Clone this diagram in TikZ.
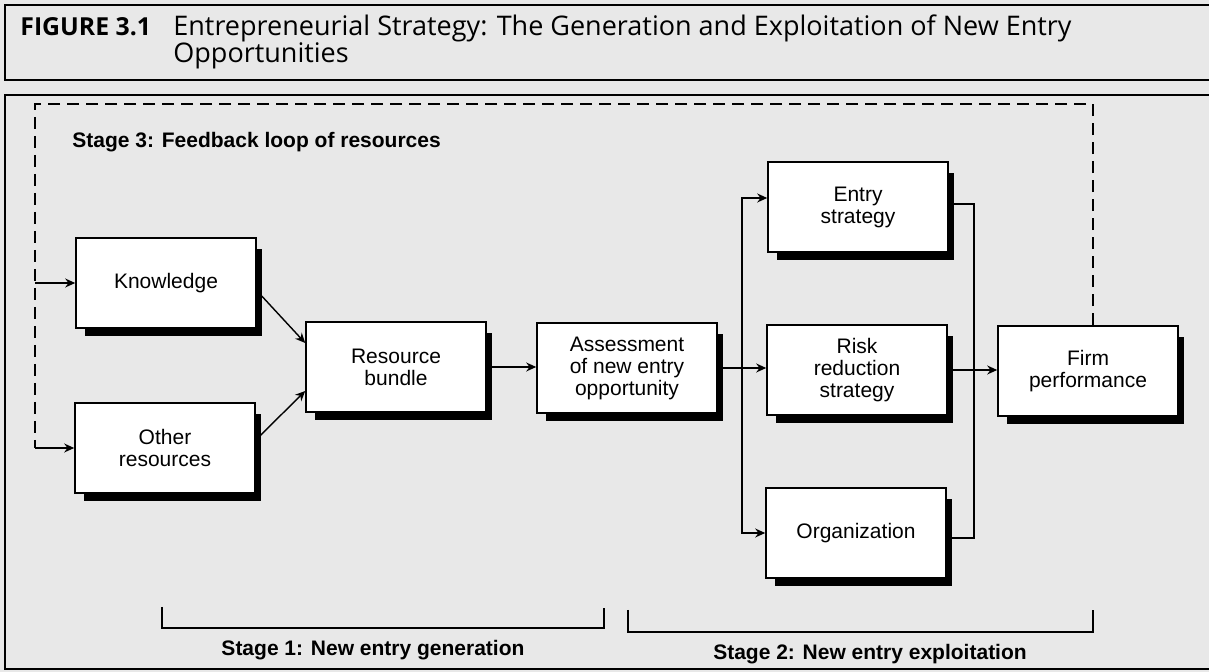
\documentclass[tikz,border=0pt]{standalone}
\usepackage{fontspec}
\setmainfont{Liberation Sans}
\newfontfamily\tieude{Open Sans}
\newcommand\chutieude{\tieude\fontsize{13.5}{13.5}\selectfont\setlength{\lineskiplimit}{-8pt}\relax}
\usetikzlibrary{arrows.meta}

\begin{document}
\begin{tikzpicture}[x=0.5pt,y=-0.5pt,
        hop/.style={draw,line width=0.8pt,fill=white,minimum width=90pt,minimum height=45pt,
            align=center,inner sep=2pt,font=\fontsize{10.5}{11}\selectfont},
        mui/.style={line width=0.7pt,-{Stealth[length=5pt,width=4.5pt]}},
        giaidoan/.style={inner sep=0pt,font=\fontsize{10.5}{12}\selectfont\bfseries}]
        %Nền
            \fill[black!9] (0,0) rectangle (1209,672);
            \useasboundingbox (0,0) rectangle (1209,672);
        %Khung
            \draw[line width=1pt] (1209,5)--(5,5)--(5,80)--(1209,80);
            \draw[line width=1pt] (1209,95)--(5,95)--(5,669)--(1209,669);
        %Tiêu đề
        \node[anchor=base west,inner sep=0pt,font=\tieude\fontsize{12.4}{12.5}\selectfont\bfseries] (hinh) at (20,36) {FIGURE 3.1};
        \node[anchor=base west,align=left,inner sep=0pt,font=\chutieude] (tieude) at (173,63)
            {Entrepreneurial Strategy: The Generation and Exploitation of New Entry\\Opportunities};
        %Các hộp
        \node[hop] (know) at (166,283) {Knowledge};
        \node[hop] (other) at (165,448) {Other\\resources};
        \node[hop] (bundle) at (396,367) {Resource\\bundle};
        \node[hop] (assess) at (627,368) {Assessment\\of new entry\\opportunity};
        \node[hop] (entry) at (858,207) {Entry\\strategy};
        \node[hop] (risk) at (857,370) {Risk\\reduction\\strategy};
        \node[hop] (org) at (856,533) {Organization};
        \node[hop] (firm) at (1088,371) {Firm\\performance};
        %Bóng
        \foreach \n in {know,other,bundle,assess,entry,risk,org,firm}{
            \fill ([xshift=5pt]\n.south west) rectangle ([xshift=2.5pt,yshift=-3.5pt]\n.south east);
            \fill ([yshift=-6pt]\n.north east) rectangle ([xshift=2.5pt]\n.south east);
        }
        %Vòng phản hồi
        \coordinate (trai) at (35,104);
        \draw[line width=0.7pt,dash pattern=on 6pt off 3.5pt] ([xshift=2.5pt]firm.north) |- (trai)--(trai |- other.west);
        \draw[mui] (trai |- know.west)--(know.west);
        \draw[mui] (trai |- other.west)--(other.west);
        %Mũi tên
        \draw[mui] ([xshift=2pt,yshift=-6pt]know.east)--([yshift=12pt]bundle.west);
        \draw[mui] ([xshift=2pt,yshift=6pt]other.east)--([yshift=-12pt]bundle.west);
        \draw[mui] ([xshift=2.5pt]bundle.east)--(bundle.east -| assess.west);
        \draw[mui] ([xshift=2.5pt]assess.east)--(assess.east -| risk.west);
        \coordinate (tach) at (742,368);
        \draw[mui] (tach) |- ([yshift=4.5pt]entry.west);
        \draw[mui] (tach) |- (org.west);
        \draw[line width=0.7pt] ([xshift=2.5pt,yshift=1.5pt]entry.east)--++(10pt,0) |- ([xshift=2.5pt,yshift=-2.5pt]org.east);
        \draw[mui] ([xshift=2.5pt]risk.east)--(risk.east -| firm.west);
        %Giai đoạn
        \node[giaidoan,anchor=base west] (gd3) at (72,148) {Stage 3: Feedback loop of resources};
        \draw[line width=0.7pt] (162,607) |- (604,628)--(604,608);
        \node[giaidoan,anchor=base] (gd1) at (373,655) {Stage 1: New entry generation};
        \draw[line width=0.7pt] (628,610) |- (1093,632)--(1093,610);
        \node[giaidoan,anchor=base] (gd2) at (870,660) {Stage 2: New entry exploitation};
\end{tikzpicture}
\end{document}
